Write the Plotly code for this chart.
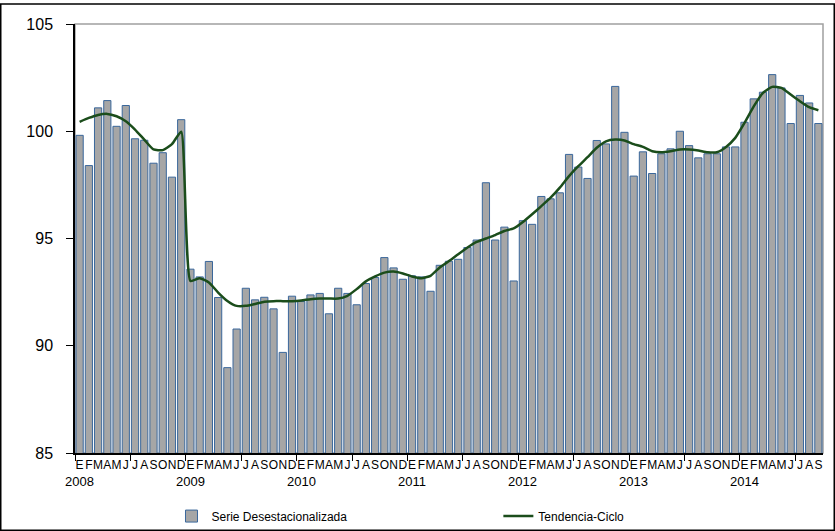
import plotly.graph_objects as go

month_letters = ["E", "F", "M", "A", "M", "J", "J", "A", "S", "O", "N", "D"]
years = ["2008", "2009", "2010", "2011", "2012", "2013", "2014"]

serie = [
    99.81, 98.40, 101.09, 101.43, 100.23, 101.20, 99.65, 99.58, 98.51, 99.00, 97.86, 100.54,
    93.57, 93.21, 93.93, 92.25, 88.98, 90.78, 92.68, 92.14, 92.26, 91.72, 89.69, 92.31,
    92.06, 92.37, 92.44, 91.49, 92.68, 92.44, 91.91, 92.90, 93.18, 94.11, 93.63, 93.10,
    93.26, 93.21, 92.54, 93.75, 93.94, 94.03, 94.58, 94.93, 97.60, 94.93, 95.53, 93.02,
    95.83, 95.66, 96.96, 96.85, 97.13, 98.92, 98.33, 97.80, 99.57, 99.41, 102.09, 99.95,
    97.91, 99.04, 98.03, 98.95, 99.18, 100.00, 99.33, 98.76, 98.95, 98.95, 99.27, 99.27,
    100.42, 101.51, 101.82, 102.64, 102.02, 100.36, 101.67, 101.32, 100.36,
]

tendencia = [
    100.44, 100.62, 100.76, 100.81, 100.70, 100.47, 100.08, 99.61, 99.15, 99.12, 99.40, 99.98,
    93.02, 93.15, 92.95, 92.48, 92.09, 91.86, 91.86, 91.95, 92.05, 92.08, 92.08, 92.08,
    92.11, 92.17, 92.20, 92.20, 92.20, 92.33, 92.64, 93.00, 93.23, 93.41, 93.46, 93.37,
    93.23, 93.15, 93.26, 93.65, 93.95, 94.27, 94.58, 94.84, 95.00, 95.16, 95.35, 95.47,
    95.77, 96.13, 96.51, 96.90, 97.37, 97.91, 98.37, 98.79, 99.23, 99.53, 99.61, 99.57,
    99.40, 99.27, 99.07, 99.02, 99.07, 99.15, 99.15, 99.10, 99.02, 99.02, 99.27, 99.69,
    100.39, 101.16, 101.79, 102.07, 102.02, 101.71, 101.40, 101.12, 100.98,
]

n = len(serie)
x = list(range(n))
ticktext = [month_letters[i % 12] for i in x]

FONT = "Arial, Liberation Sans, sans-serif"
W, H = 835, 531
ML, MR, MT, MB = 75, 12, 24, 78
PW, PH = W - ML - MR, H - MT - MB

fig = go.Figure()
fig.add_trace(go.Bar(
    x=x, y=serie, name="Serie Desestacionalizada", legend="legend",
    marker=dict(color="#A6A6A6", line=dict(color="#3A679B", width=1)),
))
fig.add_trace(go.Scatter(
    x=x, y=tendencia, name="Tendencia-Ciclo", mode="lines", legend="legend2",
    line=dict(color="#1B4D1B", width=2.5, shape="spline", smoothing=0.5),
))

annotations = []
for k, yr in enumerate(years):
    annotations.append(dict(
        x=12 * k, y=0, xref="x", yref="paper", text=yr, showarrow=False,
        yanchor="top", yshift=-19, font=dict(family=FONT, size=13, color="black"),
    ))

leg_common = dict(
    orientation="h", xanchor="left", yanchor="middle", y=-0.147,
    font=dict(family=FONT, size=12, color="black"), bgcolor="rgba(0,0,0,0)",
)

fig.update_layout(
    width=W, height=H,
    margin=dict(l=ML, r=MR, t=MT, b=MB, autoexpand=False),
    paper_bgcolor="white", plot_bgcolor="white",
    bargap=0.22,
    font=dict(family=FONT, size=12, color="black"),
    showlegend=True,
    legend=dict(x=0.129, **leg_common),
    legend2=dict(x=0.566, **leg_common),
    annotations=annotations,
    shapes=[
        dict(type="rect", xref="paper", yref="paper", x0=0, x1=1, y0=0, y1=1,
             line=dict(color="#A0A0A0", width=1.5), layer="below"),
        dict(type="rect", xref="paper", yref="paper",
             x0=(0.75 - ML) / PW, x1=(834.25 - ML) / PW,
             y0=-(530.25 - (H - MB)) / PH, y1=((H - MB) - 4) / PH,
             line=dict(color="black", width=1.5)),
    ],
)

fig.update_xaxes(
    range=[-0.5, n - 0.5],
    tickmode="array", tickvals=x, ticktext=ticktext, tickangle=0,
    ticks="", showgrid=False, zeroline=False,
    showline=True, linecolor="black", linewidth=1.5,
    tickfont=dict(family=FONT, size=12, color="black"),
    minor=dict(tickmode="linear", tick0=-0.5, dtick=6, ticks="outside",
               ticklen=6, tickcolor="black", tickwidth=1, showgrid=False),
)
fig.update_yaxes(
    range=[85, 105], tickmode="array", tickvals=[85, 90, 95, 100, 105],
    ticks="outside", ticklen=7, tickcolor="black", ticklabelstandoff=10,
    showgrid=False, zeroline=False,
    showline=True, linecolor="black", linewidth=1.5,
    tickfont=dict(family=FONT, size=16, color="black"),
)

fig.write_html(
    "out.html",
    config={"displayModeBar": False},
    post_script="document.body.style.margin='0';document.body.style.padding='0';",
)
